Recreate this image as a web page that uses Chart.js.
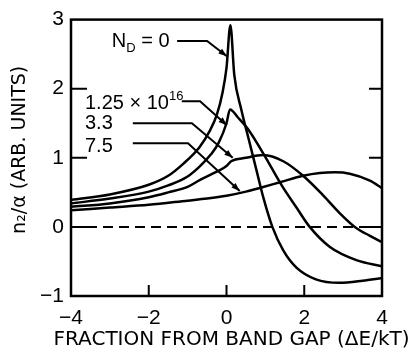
<!DOCTYPE html>
<html>
<head>
<meta charset="utf-8">
<script src="https://cdn.jsdelivr.net/npm/chart.js@4"></script>
<style>
  html, body { margin: 0; padding: 0; background: #fff; }
  #wrap { width: 413px; height: 352px; }
</style>
</head>
<body>
<div id="wrap"><canvas id="graph"></canvas></div>
<script>
// N_D = 0
var xA = [-4, -3, -2, -1.5, -1.1, -0.7, -0.43, -0.25, -0.1, 0, 0.1, 0.2, 0.38, 0.58, 0.78, 0.95, 1.18, 1.46, 1.8, 2.3, 2.9, 3.5, 4];
var yA = [0.39, 0.47, 0.61, 0.74, 0.92, 1.15, 1.39, 1.62, 1.95, 2.3, 2.92, 2.2, 1.7, 1.25, 0.8, 0.42, 0.0, -0.34, -0.59, -0.76, -0.81, -0.78, -0.74];
// N_D = 1.25e16
var xB = [-4, -3, -2, -1.5, -1, -0.68, -0.4, -0.2, 0, 0.09, 0.3, 0.56, 0.99, 1.42, 1.8, 2.14, 2.66, 3.34, 4];
var yB = [0.34, 0.41, 0.51, 0.6, 0.73, 0.88, 1.05, 1.22, 1.5, 1.7, 1.58, 1.41, 1.02, 0.6, 0.28, 0.0, -0.29, -0.48, -0.57];
// 3.3
var xC = [-4, -3, -2, -1.5, -1, -0.68, -0.25, 0, 0.12, 0.5, 0.94, 1.46, 1.97, 2.48, 2.91, 3.3, 3.69, 4];
var yC = [0.29, 0.34, 0.43, 0.5, 0.58, 0.68, 0.8, 0.88, 0.95, 1.0, 1.04, 0.95, 0.74, 0.46, 0.2, 0.0, -0.13, -0.22];
// 7.5
var xD = [-4, -3, -2, -1, -0.5, 0, 0.5, 0.9, 1.4, 1.97, 2.4, 2.8, 3.17, 3.69, 4];
var yD = [0.24, 0.28, 0.32, 0.38, 0.41, 0.45, 0.51, 0.57, 0.65, 0.74, 0.78, 0.79, 0.77, 0.67, 0.56];
// dashed zero line
var xZero = [-4, 4];
var yZero = [0, 0];

var yTickMarks = [2, 1, 0];
var xTickMarks = [-2, 0, 2];

var xTitle = 'FRACTION FROM BAND GAP (ΔE/kT)';
var yTitle = 'n₂/α (ARB. UNITS)';

// curve labels (data units, baseline) and leader lines
var labelX = [-2.95, -3.64, -3.64, -3.64];
var labelY = [2.61, 1.71, 1.42, 1.08];
var leaderX = [[-1.27, -0.5, 0.01], [-1.15, -0.68, 0.01], [-2.41, -0.89, 0.16], [-2.41, -0.99, 0.34]];
var leaderY = [[2.69, 2.69, 2.47], [1.82, 1.82, 1.47], [1.5, 1.5, 1.0], [1.21, 1.21, 0.52]];

function pts(xs, ys) {
    return xs.map(function (x, i) { return { x: x, y: ys[i] }; });
}

var FONT = '"Liberation Sans", Arial, sans-serif';
var WIDE = '"DejaVu Sans", sans-serif';

function line(xs, ys) {
    return {
        data: pts(xs, ys),
        borderColor: '#000',
        borderWidth: 2.5,
        pointRadius: 0,
        fill: false,
        cubicInterpolationMode: 'monotone'
    };
}

var decor = {
    id: 'decor',
    afterDatasetsDraw: function (chart) {
        var c = chart.ctx, a = chart.chartArea;
        var xs = chart.scales.x, ys = chart.scales.y;
        c.save();
        c.strokeStyle = '#000';
        c.fillStyle = '#000';
        c.lineWidth = 2.5;
        c.strokeRect(a.left, a.top, a.right - a.left, a.bottom - a.top);
        c.lineWidth = 2;
        yTickMarks.forEach(function (v) {
            var p = ys.getPixelForValue(v);
            c.beginPath();
            c.moveTo(a.left, p); c.lineTo(a.left + 16, p);
            c.moveTo(a.right, p); c.lineTo(a.right - 13, p);
            c.stroke();
        });
        xTickMarks.forEach(function (v) {
            var p = xs.getPixelForValue(v);
            c.beginPath();
            c.moveTo(p, a.bottom); c.lineTo(p, a.bottom - 11);
            c.stroke();
        });

        // leader lines with arrowheads
        c.lineWidth = 2;
        leaderX.forEach(function (lx, i) {
            var px = lx.map(function (v) { return xs.getPixelForValue(v); });
            var py = leaderY[i].map(function (v) { return ys.getPixelForValue(v); });
            c.beginPath();
            c.moveTo(px[0], py[0]);
            for (var k = 1; k < px.length; k++) c.lineTo(px[k], py[k]);
            c.stroke();
            var n = px.length - 1;
            var ang = Math.atan2(py[n] - py[n - 1], px[n] - px[n - 1]);
            c.beginPath();
            c.moveTo(px[n], py[n]);
            c.lineTo(px[n] - 9 * Math.cos(ang - 0.35), py[n] - 9 * Math.sin(ang - 0.35));
            c.lineTo(px[n] - 9 * Math.cos(ang + 0.35), py[n] - 9 * Math.sin(ang + 0.35));
            c.closePath();
            c.fill();
        });

        // labels
        c.textBaseline = 'alphabetic';
        c.textAlign = 'left';
        function parts(list, x, y) {
            list.forEach(function (p) {
                var size = p.s || 20;
                c.font = size + 'px ' + FONT;
                c.fillText(p.t, x, y + (p.dy || 0));
                x += c.measureText(p.t).width;
            });
        }
        var labels = [
            [{ t: 'N' }, { t: 'D', s: 13, dy: 5 }, { t: ' = 0' }],
            [{ t: '1.25 × 10' }, { t: '16', s: 13, dy: -9 }],
            [{ t: '3.3' }],
            [{ t: '7.5' }]
        ];
        labels.forEach(function (l, i) {
            parts(l, xs.getPixelForValue(labelX[i]), ys.getPixelForValue(labelY[i]));
        });

        // axis titles (drawn here so the x title may run past the plot width)
        c.textAlign = 'center';
        c.font = '20px ' + WIDE;
        c.fillText(xTitle, (a.left + a.right) / 2 + 5, chart.height - 7);
        c.translate(25, (a.top + a.bottom) / 2 - 8);
        c.rotate(-Math.PI / 2);
        c.font = '19px ' + WIDE;
        c.fillText(yTitle, 0, 0);
        c.restore();
    }
};

var ctx = document.getElementById('graph').getContext('2d');
var chart = new Chart(ctx, {
    type: 'line',
    data: {
        datasets: [
            line(xA, yA),
            line(xB, yB),
            line(xC, yC),
            line(xD, yD),
            {
                data: pts(xZero, yZero),
                borderColor: '#000',
                borderWidth: 2,
                borderDash: [10, 6],
                pointRadius: 0,
                fill: false
            }
        ]
    },
    options: {
        responsive: true,
        maintainAspectRatio: false,
        animation: false,
        layout: { padding: { top: 15, right: 31, left: 0, bottom: 0 } },
        plugins: { legend: { display: false }, tooltip: { enabled: false } },
        scales: {
            x: {
                type: 'linear',
                min: -4, max: 4,
                grid: { display: false, drawTicks: false },
                border: { display: false },
                ticks: {
                    stepSize: 2, padding: 10, color: '#000',
                    font: { family: FONT, size: 21 },
                    callback: function (v) { return String(v).replace('-', '\u2212'); }
                },
                afterFit: function (s) { s.height = 56; }
            },
            y: {
                min: -1, max: 3,
                grid: { display: false, drawTicks: false },
                border: { display: false },
                ticks: {
                    stepSize: 1, padding: 7, color: '#000',
                    font: { family: FONT, size: 21 },
                    callback: function (v) { return String(v).replace('-', '\u2212'); }
                },
                afterFit: function (s) { s.width = 71; }
            }
        }
    },
    plugins: [decor]
});
</script>
</body>
</html>
